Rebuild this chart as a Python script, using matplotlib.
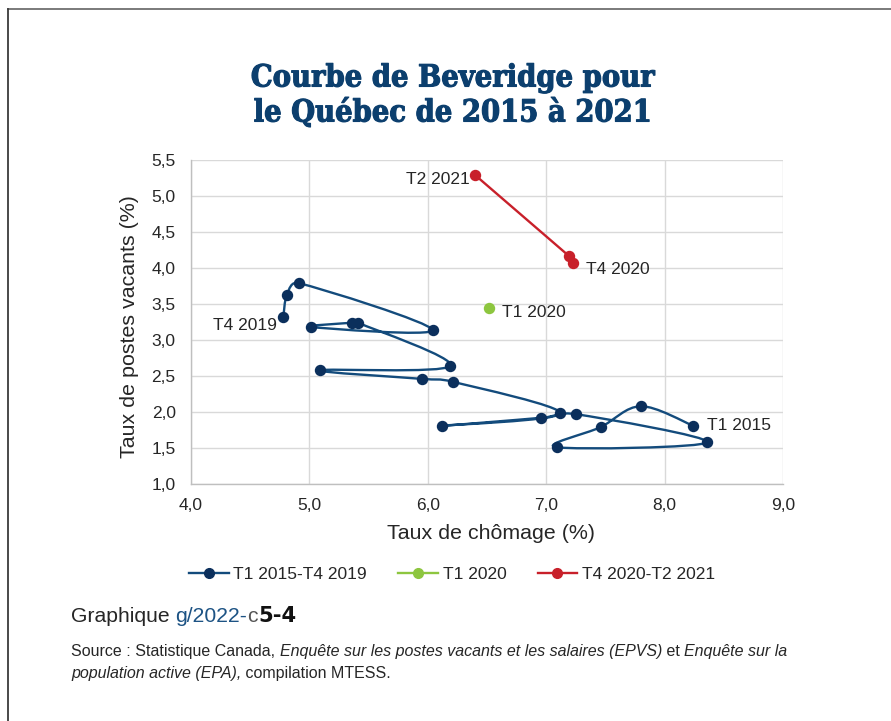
import numpy as np
import matplotlib
matplotlib.use("Agg")
import matplotlib.pyplot as plt
import matplotlib.patheffects as pe
from matplotlib.path import Path
from matplotlib.patches import PathPatch
from matplotlib.lines import Line2D
from matplotlib.offsetbox import TextArea, HPacker, VPacker, AnchoredOffsetbox

plt.rcParams['font.family'] = ['Liberation Sans', 'DejaVu Sans']

# T1 2015 - T4 2019 (quarterly)
chomage_1519 = [8.24, 7.80, 7.46, 7.09,
                8.36, 7.25, 6.96, 6.12,
                7.12, 6.21, 5.95, 5.09,
                6.19, 5.41, 5.36, 5.01,
                6.04, 4.91, 4.81, 4.78]
postes_1519 = [1.81, 2.08, 1.79, 1.51,
               1.58, 1.97, 1.92, 1.81,
               1.98, 2.42, 2.46, 2.58,
               2.64, 3.24, 3.24, 3.18,
               3.14, 3.79, 3.63, 3.32]

# T1 2020
chomage_2020 = [6.52]
postes_2020 = [3.44]

# T4 2020 - T2 2021
chomage_2021 = [7.23, 7.19, 6.40]
postes_2021 = [4.07, 4.17, 5.29]

x_ticks = [4.0, 5.0, 6.0, 7.0, 8.0, 9.0]
y_ticks = [1.0, 1.5, 2.0, 2.5, 3.0, 3.5, 4.0, 4.5, 5.0, 5.5]

BLUE_LINE = '#134b7c'
BLUE_DOT = '#0b2f5c'
GREEN = '#8dc63f'
RED = '#c8202a'
TEXT = '#262626'

# pixel size of one data unit, used so the smoothing works in screen space
SX, SY = 118.4, 71.6


def smooth_path(xs, ys):
    # Bezier spline through the points, like Excel's smoothed line
    pts = np.column_stack([np.asarray(xs) * SX, np.asarray(ys) * SY])
    n = len(pts)
    verts = [pts[0]]
    codes = [Path.MOVETO]
    for i in range(n - 1):
        p0 = pts[max(i - 1, 0)]
        p1 = pts[i]
        p2 = pts[i + 1]
        p3 = pts[min(i + 2, n - 1)]
        seg = np.linalg.norm(p2 - p1)
        t1 = (p2 - p0) / 6.0
        t2 = (p3 - p1) / 6.0
        for t in (t1, t2):
            L = np.linalg.norm(t)
            if L > seg / 2:
                t *= (seg / 2) / L
        verts += [p1 + t1, p2 - t2, p2]
        codes += [Path.CURVE4] * 3
    verts = np.array(verts) / [SX, SY]
    return Path(verts, codes)


fig = plt.figure(figsize=(8.91, 7.21), dpi=100)

# frame around the figure (cut on right and bottom)
fig.add_artist(Line2D([7.5 / 891, 1.0], [1 - 8.5 / 721] * 2, color='#707070', lw=1.3))
fig.add_artist(Line2D([7.5 / 891] * 2, [0.0, 1 - 8.5 / 721], color='#3a3a3a', lw=1.3))

ax = fig.add_axes([191 / 891, 1 - 484 / 721, 592 / 891, 324 / 721])

ax.add_patch(PathPatch(smooth_path(chomage_1519, postes_1519), facecolor='none',
                       edgecolor=BLUE_LINE, lw=1.7, zorder=3))
ax.plot(chomage_1519, postes_1519, ls='none', marker='o', ms=7.2, color=BLUE_DOT, zorder=4)
ax.plot(chomage_2020, postes_2020, ls='none', marker='o', ms=7.2, color=GREEN, zorder=4)
ax.plot(chomage_2021, postes_2021, ls='-', lw=1.7, marker='o', ms=7.2, color=RED, zorder=4)

lab_kw = dict(textcoords='offset points', fontsize=12.5, color=TEXT, va='center')
ax.annotate('T1 2015', (chomage_1519[0], postes_1519[0]), xytext=(10, 0), ha='left', **lab_kw)
ax.annotate('T4 2019', (chomage_1519[-1], postes_1519[-1]), xytext=(-5, -6), ha='right', **lab_kw)
ax.annotate('T1 2020', (chomage_2020[0], postes_2020[0]), xytext=(9, -3), ha='left', **lab_kw)
ax.annotate('T4 2020', (chomage_2021[0], postes_2021[0]), xytext=(9, -5), ha='left', **lab_kw)
ax.annotate('T2 2021', (chomage_2021[-1], postes_2021[-1]), xytext=(-4, -3), ha='right', **lab_kw)

ax.set_xlim(4.0, 9.0)
ax.set_ylim(1.0, 5.5)
ax.set_xticks(x_ticks)
ax.set_yticks(y_ticks)
ax.set_xticklabels([f'{v:.1f}'.replace('.', ',') for v in x_ticks])
ax.set_yticklabels([f'{v:.1f}'.replace('.', ',') for v in y_ticks])
ax.tick_params(length=0, labelsize=12.5, labelcolor=TEXT)
ax.tick_params(axis='y', pad=11)
ax.tick_params(axis='x', pad=10)
ax.grid(True, color='#d9d9d9', lw=1.0)
ax.set_axisbelow(True)
for s in ['top', 'right']:
    ax.spines[s].set_visible(False)
for s in ['left', 'bottom']:
    ax.spines[s].set_color('#bfbfbf')
    ax.spines[s].set_linewidth(1.0)

ax.set_xlabel('Taux de chômage (%)', fontsize=15.4, color=TEXT, labelpad=8)
ax.set_ylabel('Taux de postes vacants (%)', fontsize=15.4, color=TEXT, labelpad=9)
ax.xaxis.label.set_x(0.507)
ax.yaxis.label.set_y(0.487)

# title
title_kw = dict(ha='center', va='center', fontsize=22, fontweight='bold',
                family=['DejaVu Serif'], fontstretch='condensed', color='#0c3f6e',
                path_effects=[pe.withStroke(linewidth=0.8, foreground='#0c3f6e')])
fig.text(452 / 891, 1 - 78 / 721, 'Courbe de Beveridge pour', **title_kw)
fig.text(452 / 891, 1 - 113 / 721, 'le Québec de 2015 à 2021', **title_kw)

# legend
handles = [
    Line2D([], [], color=BLUE_LINE, lw=1.7, marker='o', ms=7, mfc=BLUE_DOT, mec=BLUE_DOT),
    Line2D([], [], color=GREEN, lw=1.7, marker='o', ms=7),
    Line2D([], [], color=RED, lw=1.7, marker='o', ms=7),
]
fig.legend(handles, ['T1 2015-T4 2019', 'T1 2020', 'T4 2020-T2 2021'],
           loc='center', bbox_to_anchor=(452 / 891, 1 - 574 / 721), ncol=3,
           frameon=False, fontsize=12.5, handlelength=2.3, handletextpad=0.25,
           columnspacing=1.8, labelcolor=TEXT)

# footer
g1 = TextArea('Graphique ', textprops=dict(fontsize=15.2, color=TEXT))
g2 = TextArea('g/2022-', textprops=dict(fontsize=15.2, color='#1d5384'))
g3 = TextArea('c', textprops=dict(fontsize=15.2, color='#555555'))
g4 = TextArea('5-4', textprops=dict(fontsize=15.2, color='#111111', fontweight='heavy',
                                    family=['DejaVu Sans']))
graph_box = HPacker(children=[g1, g2, g3, g4], align='baseline', pad=0, sep=0)
fig.add_artist(AnchoredOffsetbox(loc='center left', child=graph_box, frameon=False, pad=0,
                                 bbox_to_anchor=(71 / 891, 1 - 616 / 721),
                                 bbox_transform=fig.transFigure, borderpad=0))

src_kw = dict(fontsize=11.5, color=TEXT)
it_kw = dict(fontsize=11.5, color=TEXT, style='italic')
line1 = HPacker(children=[
    TextArea('Source : Statistique Canada, ', textprops=src_kw),
    TextArea('Enquête sur les postes vacants et les salaires (EPVS)', textprops=it_kw),
    TextArea(' et ', textprops=src_kw),
    TextArea('Enquête sur la', textprops=it_kw),
], align='baseline', pad=0, sep=0)
line2 = HPacker(children=[
    TextArea('population active (EPA),', textprops=it_kw),
    TextArea(' compilation MTESS.', textprops=src_kw),
], align='baseline', pad=0, sep=0)
src_box = VPacker(children=[line1, line2], align='left', pad=0, sep=5)
fig.add_artist(AnchoredOffsetbox(loc='upper left', child=src_box, frameon=False, pad=0,
                                 bbox_to_anchor=(71 / 891, 1 - 644 / 721),
                                 bbox_transform=fig.transFigure, borderpad=0))

fig.savefig('out.png', dpi=100)
